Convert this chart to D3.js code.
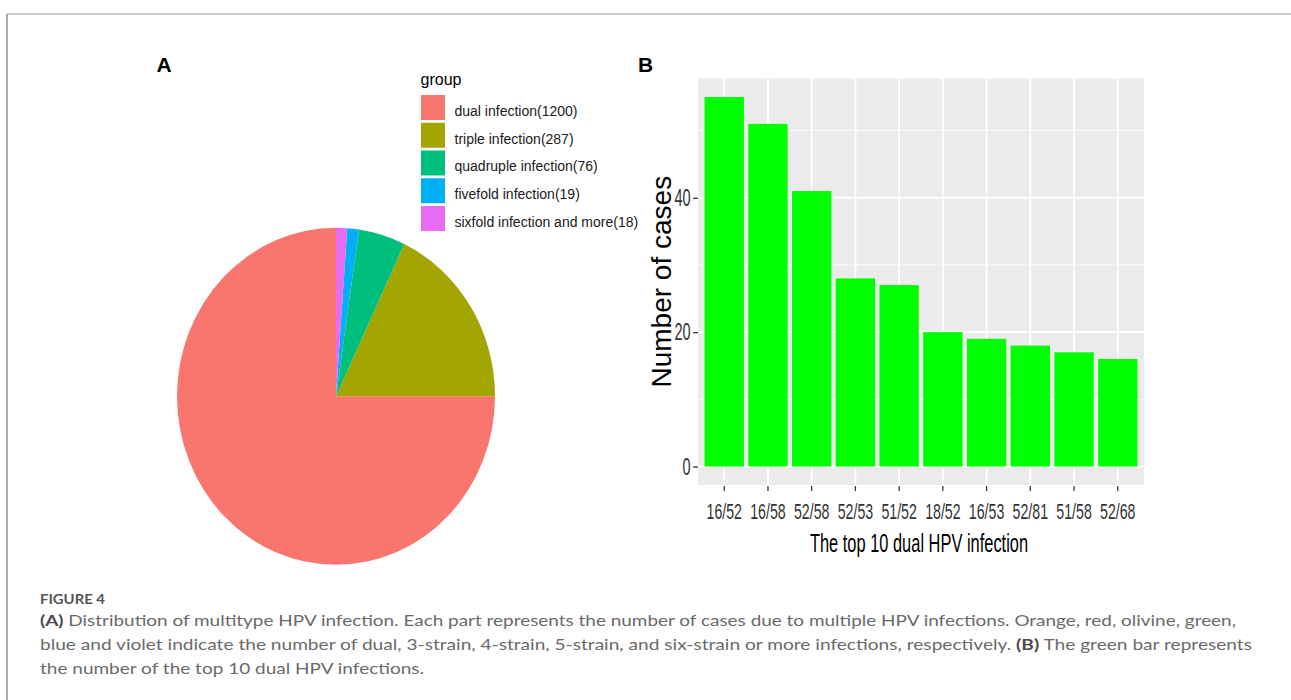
<!DOCTYPE html>
<html>
<head>
<meta charset="utf-8">
<script src="https://cdn.jsdelivr.net/npm/d3@7"></script>
<style>
  html, body { margin: 0; padding: 0; background: #ffffff; }
  svg { display: block; }
</style>
</head>
<body>
<svg id="fig" width="1291" height="700"></svg>
<script>
// Panel A: multitype HPV infection counts
const pieGroups = ["dual infection", "triple infection", "quadruple infection", "fivefold infection", "sixfold infection and more"];
const pieCounts = [1200, 287, 76, 19, 18];
const pieColors = ["#F8766D", "#A3A500", "#00BF7D", "#00B0F6", "#E76BF3"];

// Panel B: top 10 dual HPV infections
const barCategories = ["16/52", "16/58", "52/58", "52/53", "51/52", "18/52", "16/53", "52/81", "51/58", "52/68"];
const barValues = [55, 51, 41, 28, 27, 20, 19, 18, 17, 16];
const yMajorTicks = [0, 20, 40];
const yMinorTicks = [10, 30, 50];

// Caption
const captionTitle = "FIGURE 4";
const captionLines = [
  [["(A)", true], [" Distribution of multitype HPV infection. Each part represents the number of cases due to multiple HPV infections. Orange, red, olivine, green,", false]],
  [["blue and violet indicate the number of dual, 3-strain, 4-strain, 5-strain, and six-strain or more infections, respectively. ", false], ["(B)", true], [" The green bar represents", false]],
  [["the number of the top 10 dual HPV infections.", false]]
];

const svg = d3.select("#fig");
const sans = "'Liberation Sans', Arial, sans-serif";

// page frame
svg.append("line").attr("x1", 7).attr("x2", 1291).attr("y1", 14).attr("y2", 14)
  .attr("stroke", "#bdbdbd").attr("stroke-width", 1.6);
svg.append("line").attr("x1", 7).attr("x2", 7).attr("y1", 14).attr("y2", 700)
  .attr("stroke", "#8c8c8c").attr("stroke-width", 1.4);

// ---------- Panel A ----------
svg.append("text").attr("x", 156.5).attr("y", 71.5)
  .attr("font-family", sans).attr("font-weight", 700).attr("font-size", 21)
  .attr("fill", "#000").text("A");

const pieData = pieGroups.map((g, i) => ({ group: g, count: pieCounts[i], color: pieColors[i] }));
// slices run counter-clockwise from 12 o'clock, first group first
const pie = d3.pie().sort(null).value(d => d.count).startAngle(0).endAngle(-2 * Math.PI);
const arc = d3.arc().innerRadius(0).outerRadius(159);

const pieG = svg.append("g").attr("transform", "translate(336,396.3) scale(1,1.06)");
pieG.selectAll("path").data(pie(pieData)).join("path")
  .attr("d", arc).attr("fill", d => d.data.color);

// legend
const legend = svg.append("g");
legend.append("text").attr("x", 420.5).attr("y", 84.5)
  .attr("font-family", sans).attr("font-size", 16).attr("fill", "#000").text("group");
const keyY = d3.scaleBand().domain(pieGroups).range([95, 231]).paddingInner(0.1);
const items = legend.selectAll("g.item").data(pieData).join("g").attr("class", "item");
items.append("rect").attr("x", 421).attr("width", 24)
  .attr("y", d => keyY(d.group)).attr("height", keyY.bandwidth())
  .attr("fill", d => d.color);
items.append("text").attr("x", 454.5)
  .attr("y", d => keyY(d.group) + keyY.bandwidth() / 2 + 8.3)
  .attr("font-family", sans).attr("font-size", 14).attr("fill", "#1a1a1a")
  .text(d => `${d.group}(${d.count})`);

// ---------- Panel B ----------
svg.append("text").attr("x", 638).attr("y", 71.5)
  .attr("font-family", sans).attr("font-weight", 700).attr("font-size", 21)
  .attr("fill", "#000").text("B");

const panel = { left: 698, right: 1144, top: 78.5, bottom: 485 };
const squeeze = 0.63; // narrow glyphs used on this panel's axis text

const x = d3.scaleBand().domain(barCategories)
  .range([panel.left, panel.right]).paddingInner(0.1).paddingOuter(0.15);
const yMax = d3.max(barValues);
const pad = yMax * 0.05;
const y = d3.scaleLinear().domain([-pad, yMax + pad]).range([panel.bottom, panel.top]);

const plot = svg.append("g");
plot.append("rect").attr("x", panel.left).attr("y", panel.top)
  .attr("width", panel.right - panel.left).attr("height", panel.bottom - panel.top)
  .attr("fill", "#EBEBEB");

// grid
plot.selectAll("line.minor").data(yMinorTicks).join("line").attr("class", "minor")
  .attr("x1", panel.left).attr("x2", panel.right)
  .attr("y1", d => y(d)).attr("y2", d => y(d))
  .attr("stroke", "#ffffff").attr("stroke-width", 0.9);
plot.selectAll("line.major").data(yMajorTicks).join("line").attr("class", "major")
  .attr("x1", panel.left).attr("x2", panel.right)
  .attr("y1", d => y(d)).attr("y2", d => y(d))
  .attr("stroke", "#ffffff").attr("stroke-width", 1.8);
plot.selectAll("line.vgrid").data(barCategories).join("line").attr("class", "vgrid")
  .attr("x1", d => x(d) + x.bandwidth() / 2).attr("x2", d => x(d) + x.bandwidth() / 2)
  .attr("y1", panel.top).attr("y2", panel.bottom)
  .attr("stroke", "#ffffff").attr("stroke-width", 1.8);

// bars
plot.selectAll("rect.bar").data(barValues).join("rect").attr("class", "bar")
  .attr("x", (d, i) => x(barCategories[i]))
  .attr("width", x.bandwidth())
  .attr("y", d => y(d))
  .attr("height", d => y(0) - y(d))
  .attr("fill", "#00FF00");

// y axis
const yAxis = d3.axisLeft(y).tickValues(yMajorTicks).tickSize(5).tickPadding(4);
const yAxisG = svg.append("g").attr("transform", `translate(${panel.left},0)`).call(yAxis);
yAxisG.select(".domain").remove();
yAxisG.selectAll(".tick line").attr("stroke", "#333").attr("stroke-width", 1.3);
yAxisG.selectAll(".tick text")
  .attr("font-family", sans).attr("font-size", 23).attr("fill", "#333")
  .attr("x", null).attr("dy", null).attr("dominant-baseline", "central")
  .attr("text-anchor", "end")
  .attr("transform", `translate(-7.5,0) scale(${squeeze},1)`);

// x axis
const xAxis = d3.axisBottom(x).tickSize(6).tickPadding(0);
const xAxisG = svg.append("g").attr("transform", `translate(0,${panel.bottom})`).call(xAxis);
xAxisG.select(".domain").remove();
xAxisG.selectAll(".tick line").attr("stroke", "#333").attr("stroke-width", 1.3).attr("y1", 1);
xAxisG.selectAll(".tick text")
  .attr("font-family", sans).attr("font-size", 22.5).attr("fill", "#333")
  .attr("y", null).attr("dy", null)
  .attr("transform", `translate(0,34) scale(${squeeze},1)`);

// axis titles
svg.append("text")
  .attr("transform", `translate(${(panel.left + panel.right) / 2 - 2},551.5) scale(0.62,1)`)
  .attr("text-anchor", "middle")
  .attr("font-family", sans).attr("font-size", 26.5).attr("fill", "#000")
  .text("The top 10 dual HPV infection");
svg.append("text")
  .attr("transform", "translate(671,281.7) rotate(-90)")
  .attr("text-anchor", "middle")
  .attr("font-family", sans).attr("font-size", 28).attr("fill", "#000")
  .text("Number of cases");

// ---------- Caption ----------
const capFont = "Lato, 'Open Sans', sans-serif";
svg.append("text").attr("x", 40).attr("y", 604)
  .attr("font-family", capFont).attr("font-size", 12.5).attr("font-weight", 700)
  .attr("fill", "#555").attr("textLength", 65).attr("lengthAdjust", "spacingAndGlyphs")
  .text(captionTitle);

const lineBase = [626, 650, 674];
const lineEnd = [1236, 1252, 424];
captionLines.forEach((parts, i) => {
  const t = svg.append("text").attr("x", 40).attr("y", lineBase[i])
    .attr("font-family", capFont).attr("font-size", 15).attr("fill", "#6a6a6a")
    .attr("textLength", lineEnd[i] - 40).attr("lengthAdjust", "spacingAndGlyphs");
  parts.forEach(([s, bold]) => {
    t.append("tspan").attr("font-weight", bold ? 700 : 400)
      .attr("fill", bold ? "#4a4a4a" : "#6a6a6a").text(s);
  });
});
</script>
</body>
</html>
